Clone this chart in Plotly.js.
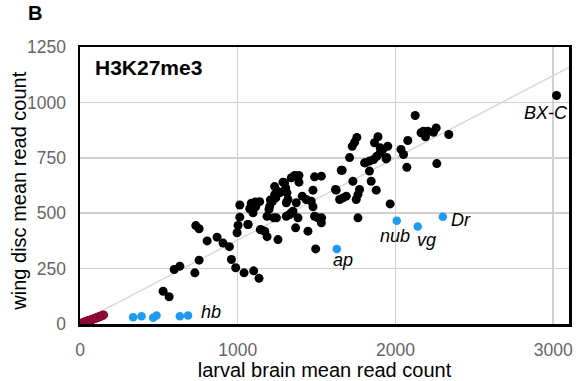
<!DOCTYPE html>
<html>
<head>
<meta charset="utf-8">
<script src="https://cdn.plot.ly/plotly-3.0.1.min.js"></script>
<style>
html,body{margin:0;padding:0;background:#fff;}
#chart{width:576px;height:381px;}
</style>
</head>
<body>
<div id="chart"></div>
<script>
// Black genes: larval brain (x) vs wing disc (y) mean read count
const blackX = [527,565,597,633,728,755,734,755,806,869,907,947,960,987,1040,1101,1135,
  996,1002,1013,1013,1065,1076,1086,1110,1139,1114,1150,1171,1186,1255,1198,1186,1228,
  1207,1234,1234,1255,1287,1304,1312,1308,1329,1350,1340,1361,1388,1388,1318,1371,1382,
  1367,1409,1434,1466,1477,1477,1487,1530,1445,1487,1508,1530,1494,1532,1620,1662,1646,
  1667,1688,1730,1762,1772,1751,1762,1709,1726,1755,1741,1804,1835,1861,1882,1903,1920,
  1951,1889,1867,1903,1941,1835,1846,1878,1966,2035,2051,2072,2078,2125,2162,2177,2190,
  2205,2241,2258,2338,2262,3021,1143,1065,1097,1097,1241,1266,1297,1308,1203,1220,1245,
  1340,1945,1810,1624,1656];
const blackY = [148,123,246,261,231,288,444,430,375,392,365,349,291,254,231,240,206,
  412,445,482,537,449,520,545,550,552,529,424,419,394,381,517,486,479,
  560,584,620,598,640,614,592,486,494,509,660,670,670,640,562,547,479,
  434,577,562,554,604,529,664,667,419,486,479,457,339,479,607,694,562,
  569,577,644,584,607,562,479,751,802,842,820,727,735,742,757,772,788,
  802,845,818,795,745,690,644,604,542,788,765,707,828,941,863,870,845,
  870,865,885,855,724,1031,426,449,539,502,569,592,637,547,532,554,479,
  502,751,728,604,694];

// Blue genes
const blueX = [337,390,464,485,633,685,1628,2008,2141,2300];
const blueY = [31,35,28,38,35,38,339,466,440,484];
const blueNames = ['','','','','','hb','ap','nub','vg','Dr'];

// Dark red genes (low counts)
const redX = [8,14,20,26,31,36,42,47,52,58,63,68,74,79,85,90,96,101,107,112,118,124,130,137,144,150];
const redY = [3,5,6,8,9,10,12,13,14,16,17,18,20,21,23,24,26,27,28,30,32,33,35,37,39,41];

// Named label on a black point
const bxcName = 'BX-C';
const bxcIndex = blackX.indexOf(3021);

// Reference diagonal
const lineX = [0, 3100];
const lineY = [8, 1158];

const xTicks = [0, 1000, 2000, 3000];
const yTicks = [0, 250, 500, 750, 1000, 1250];

const FONT = 'Liberation Sans, Arial, sans-serif';

const traces = [
  {x: lineX, y: lineY, mode: 'lines', type: 'scatter',
   line: {color: '#d9d9d9', width: 1.5}, hoverinfo: 'skip'},
  {x: blackX, y: blackY, mode: 'markers', type: 'scatter',
   marker: {color: '#000000', size: 9}},
  {x: redX, y: redY, mode: 'markers', type: 'scatter',
   marker: {color: '#8c0b36', size: 9}},
  {x: blueX, y: blueY, mode: 'markers', type: 'scatter',
   marker: {color: '#1e9bf0', size: 8.5}}
];

const offsets = {
  hb: {xs: 11, ys: 4, xa: 'left'},
  ap: {xs: 6, ys: -11, xa: 'center'},
  nub: {xs: -2, ys: -15, xa: 'center'},
  vg: {xs: 9, ys: -13, xa: 'center'},
  Dr: {xs: 6, ys: -3, xa: 'left'}
};
const annotations = [];
blueNames.forEach((n, i) => {
  if (!n) return;
  const o = offsets[n];
  annotations.push({x: blueX[i], y: blueY[i], xref: 'x', yref: 'y', text: '<i>' + n + '</i>',
    showarrow: false, xanchor: o.xa, yanchor: 'middle', xshift: o.xs, yshift: o.ys,
    font: {family: FONT, size: 18, color: '#000'}});
});
annotations.push({x: blackX[bxcIndex], y: blackY[bxcIndex], xref: 'x', yref: 'y',
  text: '<i>' + bxcName + '</i>', showarrow: false, xanchor: 'center', yanchor: 'middle',
  xshift: -11, yshift: -17,
  font: {family: FONT, size: 18, color: '#000'}});
annotations.push({xref: 'paper', yref: 'paper', x: 0.026, y: 0.975, xanchor: 'left', yanchor: 'top',
  text: '<b>H3K27me3</b>', showarrow: false,
  font: {family: FONT, size: 21, color: '#000'}});
annotations.push({xref: 'paper', yref: 'paper', x: -0.11, y: 1.17, xanchor: 'left', yanchor: 'top',
  text: '<b>B</b>', showarrow: false,
  font: {family: FONT, size: 20, color: '#000'}});
// y-axis title
annotations.push({xref: 'paper', yref: 'paper', x: -0.1255, y: 0.48, xanchor: 'center', yanchor: 'middle',
  textangle: -90, text: 'wing disc mean read count', showarrow: false,
  font: {family: FONT, size: 20, color: '#000'}});

const layout = {
  width: 576, height: 381,
  margin: {l: 80, r: 7, t: 47, b: 57},
  paper_bgcolor: '#fff', plot_bgcolor: '#fff',
  showlegend: false,
  font: {family: FONT},
  xaxis: {
    range: [0, 3100], tickvals: xTicks, ticktext: xTicks.map(String),
    showgrid: true, gridcolor: '#d0d0d0', gridwidth: 1.5, zeroline: false,
    showline: true, linecolor: '#000', linewidth: 2.5, mirror: true,
    ticks: 'outside', ticklen: 8, tickcolor: 'rgba(0,0,0,0)',
    tickfont: {size: 17.5, color: '#666'},
    title: {text: 'larval brain mean read count', font: {size: 20, color: '#000'}, standoff: 3}
  },
  yaxis: {
    range: [0, 1250], tickvals: yTicks, ticktext: yTicks.map(String),
    showgrid: true, gridcolor: '#d0d0d0', gridwidth: 1.5, zeroline: false,
    showline: true, linecolor: '#000', linewidth: 2.5, mirror: true,
    ticks: 'outside', ticklen: 8, tickcolor: 'rgba(0,0,0,0)',
    tickfont: {size: 17.5, color: '#666'}
  },
  annotations: annotations
};

Plotly.newPlot('chart', traces, layout, {displayModeBar: false, staticPlot: true});
</script>
</body>
</html>
